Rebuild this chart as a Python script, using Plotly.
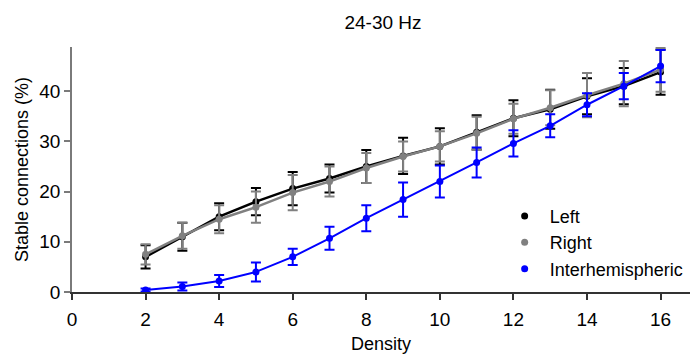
import plotly.graph_objects as go

# Stable connections (%) per density, 24-30 Hz band
density = [2, 3, 4, 5, 6, 7, 8, 9, 10, 11, 12, 13, 14, 15, 16]

left_mean = [7.0, 11.0, 15.0, 18.0, 20.6, 22.6, 25.0, 27.1, 29.0, 31.8, 34.6, 36.4, 39.0, 41.0, 43.8]
left_err = [2.3, 2.8, 2.7, 2.7, 3.3, 2.8, 3.3, 3.6, 3.6, 3.4, 3.6, 3.9, 3.6, 3.6, 4.5]

right_mean = [7.5, 11.2, 14.5, 16.9, 19.8, 22.0, 24.7, 27.0, 29.0, 31.6, 34.5, 36.7, 39.2, 41.5, 44.3]
right_err = [2.0, 2.6, 2.8, 3.1, 3.5, 3.0, 3.0, 3.0, 3.0, 3.3, 3.0, 3.5, 4.4, 4.5, 4.4]

inter_mean = [0.4, 1.1, 2.2, 4.0, 7.0, 10.7, 14.7, 18.4, 22.0, 25.8, 29.6, 33.1, 37.3, 41.0, 45.0]
inter_err = [0.3, 0.8, 1.2, 1.9, 1.6, 2.3, 2.6, 3.4, 3.2, 3.0, 2.6, 2.3, 2.3, 2.6, 3.2]

series = [
    ("Left", left_mean, left_err, "#000000", 2.5),
    ("Right", right_mean, right_err, "#808080", 2.5),
    ("Interhemispheric", inter_mean, inter_err, "#0000FF", 2.0),
]

FONT = "Liberation Sans, Arial, sans-serif"

fig = go.Figure()
for name, mean, err, color, lw in series:
    fig.add_trace(go.Scatter(
        x=density, y=mean, mode="lines+markers", name=name,
        line=dict(color=color, width=lw),
        marker=dict(color=color, size=7, symbol="circle"),
        error_y=dict(type="data", array=err, visible=True,
                     color=color, thickness=2, width=5),
        showlegend=False,
    ))

# legend entries shown as plain dots
for name, mean, err, color, lw in series:
    fig.add_trace(go.Scatter(
        x=[None], y=[None], mode="markers", name=name,
        marker=dict(color=color, size=7, symbol="circle"),
        showlegend=True,
    ))

fig.update_layout(
    width=690, height=354,
    margin=dict(l=72, r=0, t=47, b=61.5),
    paper_bgcolor="white", plot_bgcolor="white",
    font=dict(family=FONT, size=18, color="#000000"),
    title=dict(text="24-30 Hz", x=(383 / 690), xanchor="center",
               y=1 - 22 / 354, yanchor="middle",
               font=dict(family=FONT, size=19, color="#000000")),
    legend=dict(x=0.692, y=0.385, xanchor="left", yanchor="top",
                bgcolor="rgba(0,0,0,0)", borderwidth=0,
                font=dict(family=FONT, size=18, color="#000000"),
                itemwidth=40),
    showlegend=True,
)

fig.update_xaxes(
    range=[0, 16.8], tickmode="array", tickvals=[0, 2, 4, 6, 8, 10, 12, 14, 16],
    showline=True, linecolor="#333333", linewidth=1.5,
    ticks="outside", ticklen=6, tickcolor="#333333", tickwidth=1.5,
    showgrid=False, zeroline=False, ticklabelstandoff=3,
    tickfont=dict(family=FONT, size=19, color="#000000"),
    title=dict(text="Density", standoff=9,
               font=dict(family=FONT, size=18, color="#000000")),
)
fig.update_yaxes(
    range=[0, 48.8], tickmode="array", tickvals=[0, 10, 20, 30, 40],
    showline=True, linecolor="#7a7a7a", linewidth=1.5,
    ticks="outside", ticklen=6, tickcolor="#7a7a7a", tickwidth=1.5,
    showgrid=False, zeroline=False,
    tickfont=dict(family=FONT, size=19, color="#000000"),
    title=dict(text="Stable connections (%)", standoff=6,
               font=dict(family=FONT, size=18, color="#000000")),
)

fig.write_html("out.html")
